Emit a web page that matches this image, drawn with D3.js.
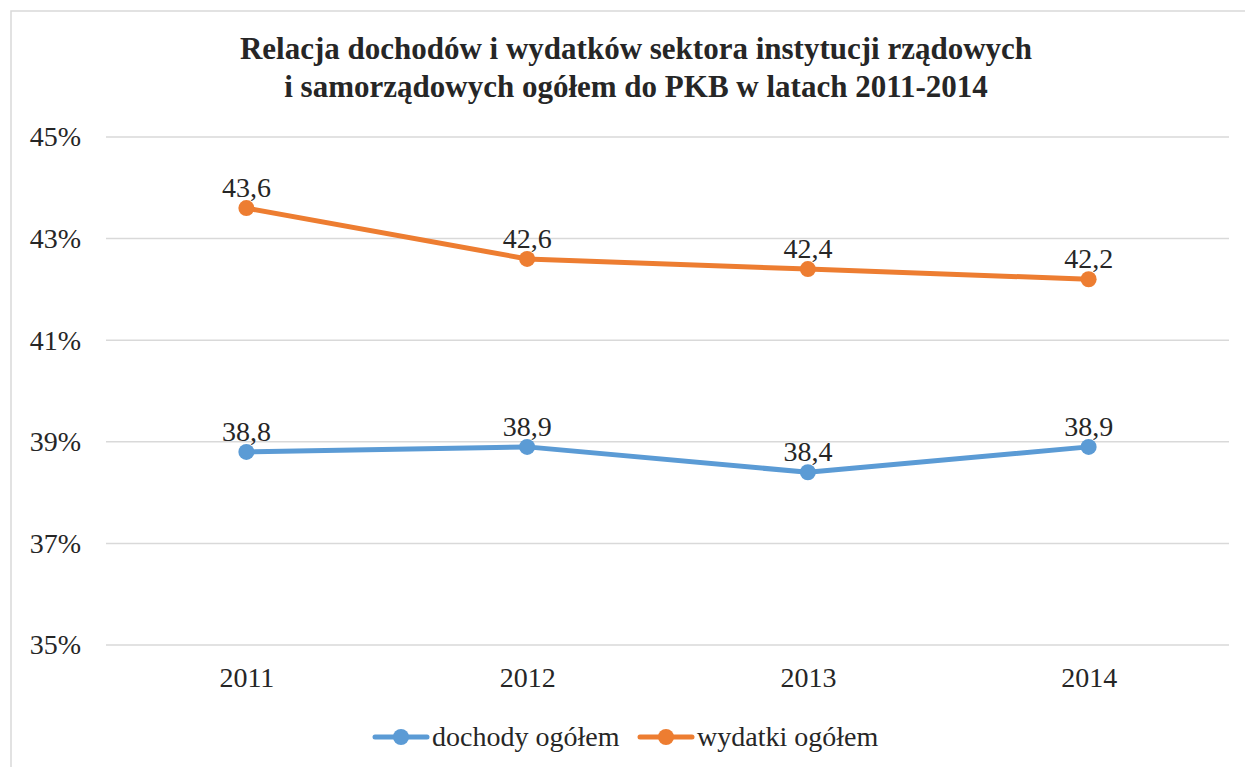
<!DOCTYPE html>
<html>
<head>
<meta charset="utf-8">
<script src="https://cdn.jsdelivr.net/npm/d3@7"></script>
<style>
  body { margin: 0; background: #fff; }
  svg { display: block; }
  svg text { font-family: "Liberation Serif", "Tinos", "Times New Roman", Times, "DejaVu Serif", serif !important; }
</style>
</head>
<body>
<div id="chart"></div>
<script>
// data
const years = ["2011", "2012", "2013", "2014"];
const dochody = [38.8, 38.9, 38.4, 38.9];
const wydatki = [43.6, 42.6, 42.4, 42.2];
const yTicks = [35, 37, 39, 41, 43, 45];
const titleLines = [
  "Relacja dochodów i wydatków sektora instytucji rządowych",
  "i samorządowych ogółem do PKB w latach 2011-2014"
];

const series = [
  {name: "dochody ogółem", values: dochody, color: "#5B9BD5"},
  {name: "wydatki ogółem", values: wydatki, color: "#ED7D31"}
];

const width = 1245, height = 767;
const plot = {left: 106, right: 1229, top: 137, bottom: 645};

const svg = d3.select("#chart").append("svg")
  .attr("width", width)
  .attr("height", height);

// outer frame
svg.append("rect")
  .attr("x", 11).attr("y", 11)
  .attr("width", 1260).attr("height", 780)
  .attr("fill", "none")
  .attr("stroke", "#d9d9d9")
  .attr("stroke-width", 1.5);

const x = d3.scalePoint()
  .domain(years)
  .range([plot.left, plot.right])
  .padding(0.5);

const y = d3.scaleLinear()
  .domain([35, 45])
  .range([plot.bottom, plot.top]);

// title
svg.append("text")
  .attr("x", 636)
  .attr("text-anchor", "middle")
  .style("font-weight", "bold")
  .style("font-size", "31px")
  .attr("fill", "#262626")
  .selectAll("tspan")
  .data(titleLines)
  .join("tspan")
  .attr("x", 636)
  .attr("y", (d, i) => 59 + i * 38)
  .text(d => d);

// grid
svg.append("g")
  .selectAll("line")
  .data(yTicks)
  .join("line")
  .attr("x1", plot.left).attr("x2", plot.right)
  .attr("y1", d => y(d)).attr("y2", d => y(d))
  .attr("stroke", "#d9d9d9")
  .attr("stroke-width", 1.5);

// y axis labels
const yAxis = svg.append("g")
  .attr("transform", `translate(${plot.left - 25},0)`)
  .call(d3.axisLeft(y).tickValues(yTicks).tickFormat(d => d + "%").tickSize(0).tickPadding(0));
yAxis.select(".domain").remove();
yAxis.selectAll("text")
  .style("font-size", "28px")
  .attr("fill", "#262626");

// x axis labels
const xAxis = svg.append("g")
  .attr("transform", `translate(0,${plot.bottom + 22})`)
  .call(d3.axisBottom(x).tickSize(0).tickPadding(0));
xAxis.select(".domain").remove();
xAxis.selectAll("text")
  .style("font-size", "28px")
  .attr("fill", "#262626");

const line = d3.line()
  .x((d, i) => x(years[i]))
  .y(d => y(d));

series.forEach(s => {
  const g = svg.append("g");
  g.append("path")
    .attr("d", line(s.values))
    .attr("fill", "none")
    .attr("stroke", s.color)
    .attr("stroke-width", 5)
    .attr("stroke-linecap", "round")
    .attr("stroke-linejoin", "round");
  g.selectAll("circle")
    .data(s.values)
    .join("circle")
    .attr("cx", (d, i) => x(years[i]))
    .attr("cy", d => y(d))
    .attr("r", 8)
    .attr("fill", s.color);
  g.selectAll("text")
    .data(s.values)
    .join("text")
    .attr("x", (d, i) => x(years[i]))
    .attr("y", d => y(d) - 11)
    .attr("text-anchor", "middle")
    .style("font-size", "28px")
    .attr("fill", "#262626")
    .text(d => d.toFixed(1).replace(".", ","));
});

// legend
const legendX = [375, 640];
const legend = svg.append("g")
  .selectAll("g")
  .data(series)
  .join("g")
  .attr("transform", (d, i) => `translate(${legendX[i]},737)`);
legend.append("line")
  .attr("x1", 0).attr("x2", 52)
  .attr("stroke", d => d.color)
  .attr("stroke-width", 5)
  .attr("stroke-linecap", "round");
legend.append("circle")
  .attr("cx", 26).attr("r", 8)
  .attr("fill", d => d.color);
legend.append("text")
  .attr("x", 57)
  .attr("y", 9)
  .style("font-size", "28px")
  .attr("fill", "#262626")
  .text(d => d.name);
</script>
</body>
</html>
